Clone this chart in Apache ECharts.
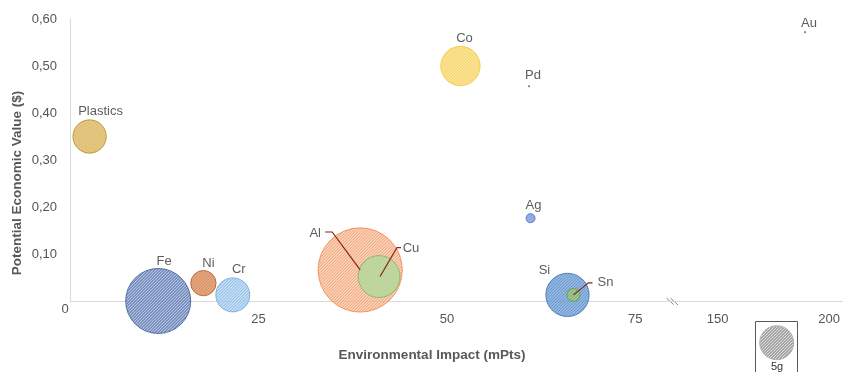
<!DOCTYPE html>
<html><head><meta charset="utf-8">
<script src="https://cdn.jsdelivr.net/npm/echarts@6/dist/echarts.min.js"></script>
<style>html,body{margin:0;padding:0;background:#fff}#c{width:843px;height:372px}</style>
</head><body><div id="c"></div>
<script>
// ---- data ----
const names = ['Plastics','Fe','Ni','Cr','Al','Cu','Co','Pd','Ag','Si','Sn','Au'];
const impact = [2.6, 11.7, 17.7, 21.6, 38.5, 41.0, 51.8, 60.9, 61.1, 66.0, 66.8, 189.2];
const econValue = [0.35, 0.0, 0.038, 0.013, 0.066, 0.052, 0.50, 0.457, 0.176, 0.013, 0.013, 0.572];
const massG = [4.8, 18.3, 2.77, 5.0, 30.7, 7.6, 6.7, 0.02, 0.35, 8.1, 0.73, 0.02];
const xTicksLow = [0, 25, 50, 75];
const xTicksHigh = [150, 200];
const yTicks = [0.1, 0.2, 0.3, 0.4, 0.5, 0.6];
const legendMass = 5;
const legendLabel = '5g';
const xTitle = 'Environmental Impact (mPts)';
const yTitle = 'Potential Economic Value ($)';

// ---- styles ----
const FONT = '"Liberation Sans", Arial, Helvetica, sans-serif';
const LEGEND_D = 34;
const sizeOf = m => LEGEND_D * Math.sqrt(m / legendMass);
const STYLE = {
  Plastics: {base:'#cfa133', light:'#f4e2aa', border:'#b38a20', lab:[11,-25]},
  Fe:  {base:'#4e6cab', light:'#bfcde9', border:'#3a5894', lab:[6,-40]},
  Ni:  {base:'#cc6f33', light:'#f2bc95', border:'#b3581f', lab:[5,-20]},
  Cr:  {base:'#84b8e6', light:'#d8e9f8', border:'#69a6dc', lab:[6,-25]},
  Al:  {base:'#f39c68', light:'#fde5d5', border:'#ee8549', lab:[-45,-37], leader:[[-35,-38],[-28,-38],[0,0]]},
  Cu:  {base:'#9bd083', light:'#dcf0d1', border:'#78b95a', lab:[32,-28], leader:[[22,-29],[18,-29],[1,0]]},
  Co:  {base:'#f6ca40', light:'#fdefbb', border:'#f3c53a', lab:[4,-28]},
  Pd:  {solid:'#555555', lab:[4,-11]},
  Ag:  {base:'#5a82d4', light:'#b0c6ef', border:'#4a6fc2', lab:[3,-13]},
  Si:  {base:'#4581c6', light:'#adc9ea', border:'#386db0', lab:[-23,-24]},
  Sn:  {base:'#82b45a', light:'#c7e1af', border:'#67993f', lab:[32,-12], leader:[[19,-12],[15,-12],[0,0]]},
  Au:  {solid:'#666666', lab:[4,-9]}
};
const LEGEND_STYLE = {base:'#a3a3a3', light:'#e0e0e0', border:'#b3b3b3'};

function hatchCanvas(base, light) {
  const c = document.createElement('canvas');
  c.width = 3; c.height = 3;
  const ctx = c.getContext('2d');
  ctx.fillStyle = base; ctx.fillRect(0, 0, 3, 3);
  ctx.fillStyle = light;
  for (let x = 0; x < 3; x++) { ctx.fillRect(x, (5 - x) % 3, 1, 1); }
  return c;
}
function hatch(st, scale) {
  return {image: hatchCanvas(st.base, st.light), repeat: 'repeat', scaleX: scale, scaleY: scale};
}

function makeItem(i) {
  const st = STYLE[names[i]];
  const d = sizeOf(massG[i]);
  return {
    name: names[i],
    value: [impact[i], econValue[i], massG[i]],
    itemStyle: st.solid ? {color: st.solid, borderWidth: 0}
      : {color: hatch(st, 2 / d), borderColor: st.border, borderWidth: 1},
    label: {offset: st.lab}
  };
}
const lowIdx = names.map((n, i) => i).filter(i => impact[i] <= 100);
const highIdx = names.map((n, i) => i).filter(i => impact[i] > 100);
const leaderIdx = names.map((n, i) => i).filter(i => STYLE[names[i]].leader);

const labelBase = {show: true, position: 'inside', formatter: '{b}', color: '#333333',
  fontSize: 13, fontFamily: FONT, textBorderWidth: 0};
const axisLineStyle = {show: true, lineStyle: {color: '#d9d9d9', width: 1}};

const chart = echarts.init(document.getElementById('c'), null, {renderer: 'canvas'});
const legendR = sizeOf(legendMass) / 2;

chart.setOption({
  animation: false,
  backgroundColor: '#ffffff',
  grid: [
    {left: 70, right: 170, top: 19, bottom: 71},
    {left: 673, right: 0, top: 19, bottom: 71}
  ],
  xAxis: [
    {type: 'value', gridIndex: 0, min: 0, max: 80,
     axisLine: axisLineStyle, axisTick: {show: false}, splitLine: {show: false},
     axisLabel: {customValues: xTicksLow, color: '#555555', fontSize: 13, fontFamily: FONT,
       margin: 4, lineHeight: 28,
       formatter: v => v === 0 ? '{z|0}' : String(v),
       rich: {z: {lineHeight: 8, padding: [0, 10, 0, 0], color: '#555555', fontSize: 13, fontFamily: FONT}}}},
    {type: 'value', gridIndex: 1, min: 130, max: 206,
     axisLine: axisLineStyle, axisTick: {show: false}, splitLine: {show: false},
     axisLabel: {customValues: xTicksHigh, color: '#555555', fontSize: 13, fontFamily: FONT,
       margin: 4, lineHeight: 28}}
  ],
  yAxis: [
    {type: 'value', gridIndex: 0, min: 0, max: 0.6,
     axisLine: axisLineStyle, axisTick: {show: false}, splitLine: {show: false},
     axisLabel: {customValues: yTicks, color: '#555555', fontSize: 13, fontFamily: FONT, margin: 13,
       formatter: v => v.toFixed(2).replace('.', ',')}},
    {type: 'value', gridIndex: 1, min: 0, max: 0.6, show: false}
  ],
  series: [
    {type: 'scatter', xAxisIndex: 0, yAxisIndex: 0, silent: true,
     symbolSize: v => sizeOf(v[2]),
     label: labelBase, emphasis: {disabled: true},
     data: lowIdx.map(makeItem)},
    {type: 'scatter', xAxisIndex: 1, yAxisIndex: 1, silent: true,
     symbolSize: v => sizeOf(v[2]),
     label: labelBase, emphasis: {disabled: true},
     data: highIdx.map(makeItem)},
    {type: 'custom', xAxisIndex: 0, yAxisIndex: 0, silent: true, z: 5,
     data: leaderIdx.map(i => [impact[i], econValue[i], i]),
     renderItem: (params, api) => {
       const c = api.coord([api.value(0), api.value(1)]);
       const pts = STYLE[names[api.value(2)]].leader.map(p => [c[0] + p[0], c[1] + p[1]]);
       return {type: 'polyline', shape: {points: pts},
               style: {stroke: '#8a1f1f', lineWidth: 1.2, fill: null}};
     }}
  ],
  graphic: [
    {type: 'text', x: 17, y: 183, rotation: Math.PI / 2, silent: true,
     style: {text: yTitle, font: 'bold 13.5px ' + FONT, fill: '#595959', align: 'center', verticalAlign: 'middle'}},
    {type: 'text', x: 432, y: 355, silent: true,
     style: {text: xTitle, font: 'bold 13.5px ' + FONT, fill: '#595959', align: 'center', verticalAlign: 'middle'}},
    {type: 'line', silent: true, shape: {x1: 666.5, y1: 298, x2: 673.5, y2: 304.5}, style: {stroke: '#8a8a8a', lineWidth: 1}},
    {type: 'line', silent: true, shape: {x1: 670.5, y1: 298, x2: 678, y2: 305}, style: {stroke: '#8a8a8a', lineWidth: 1}},
    {type: 'rect', silent: true, shape: {x: 755.5, y: 321.5, width: 42, height: 60},
     style: {fill: '#ffffff', stroke: '#5a5a5a', lineWidth: 1}},
    {type: 'circle', silent: true, shape: {cx: 776.7, cy: 342.7, r: legendR},
     style: {fill: hatch(LEGEND_STYLE, 1), stroke: LEGEND_STYLE.border, lineWidth: 1}},
    {type: 'text', x: 777, y: 366.5, silent: true,
     style: {text: legendLabel, font: '11px ' + FONT, fill: '#333333', align: 'center', verticalAlign: 'middle'}}
  ]
});
</script></body></html>
